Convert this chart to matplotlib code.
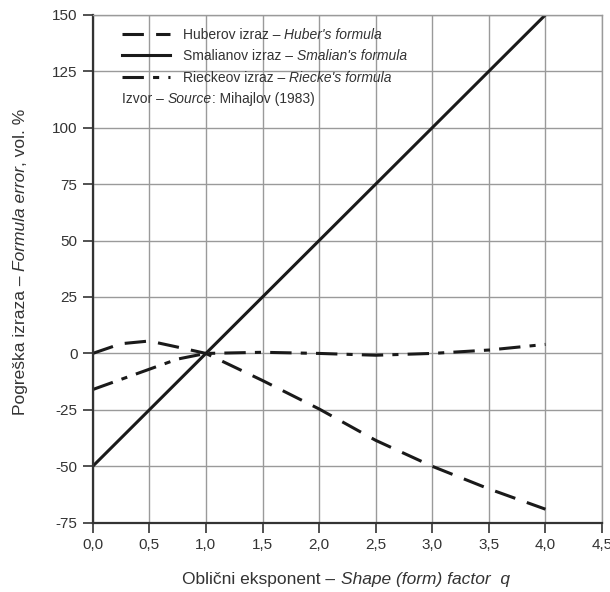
import matplotlib.pyplot as plt
import numpy as np
from matplotlib import font_manager
from matplotlib.ticker import FuncFormatter
from matplotlib.lines import Line2D


def pick_font(names):
    for n in names:
        try:
            font_manager.findfont(n, fallback_to_default=False)
            return n
        except Exception:
            pass
    return 'DejaVu Sans'


FONT = pick_font(['Liberation Sans Narrow', 'Liberation Sans'])
plt.rcParams['font.family'] = [FONT, 'DejaVu Sans']
NARROW = FONT != 'Liberation Sans'

# data
q = [0.0, 0.25, 0.5, 0.75, 1.0, 1.5, 2.0, 2.5, 3.0, 3.5, 4.0]
huber = [0.0, 4.3, 5.5, 2.8, 0.0, -12.0, -24.6, -38.5, -50.0, -60.0, -69.0]
riecke = [-16.0, -11.5, -7.0, -2.5, 0.0, 0.5, 0.0, -0.8, 0.0, 1.5, 4.0]
q_smal = [0.0, 4.0]
smalian = [-50.0, 150.0]

x_ticks = [0.0, 0.5, 1.0, 1.5, 2.0, 2.5, 3.0, 3.5, 4.0, 4.5]
y_ticks = [-75, -50, -25, 0, 25, 50, 75, 100, 125, 150]

legend_rows = [
    [("Huberov izraz – ", 'normal'), ("Huber's formula", 'italic')],
    [("Smalianov izraz – ", 'normal'), ("Smalian's formula", 'italic')],
    [("Rieckeov izraz – ", 'normal'), ("Riecke's formula", 'italic')],
]
source_row = [("Izvor – ", 'normal'), ("Source", 'italic'), (": Mihajlov (1983)", 'normal')]
xlabel_parts = [("Oblični eksponent – ", 'normal'), ("Shape (form) factor  q", 'italic')]
ylabel_parts = [("Pogreška izraza – ", 'normal'), ("Formula error", 'italic'), (", vol. %", 'normal')]

TXT = '#333333'
FS_TICK = 12.5 if NARROW else 11
FS_LEG = 12 if NARROW else 10
FS_LAB = 14 if NARROW else 12.5

fig = plt.figure(figsize=(6.10, 5.92), dpi=100)
ax = fig.add_axes([0.152, 0.117, 0.835, 0.858])
renderer = fig.canvas.get_renderer()
W, H = fig.bbox.width, fig.bbox.height


def text_len(s, style, size):
    t = fig.text(0, 0, "X" + s + "X", fontsize=size, style=style)
    t2 = fig.text(0, 0, "XX", fontsize=size, style=style)
    w = t.get_window_extent(renderer).width - t2.get_window_extent(renderer).width
    t.remove(); t2.remove()
    return w


def rich_text(px, py, parts, size, rotation=0, center=False):
    # px, py: baseline start point (pixels from bottom-left)
    lens = [text_len(s, st, size) for s, st in parts]
    total = sum(lens)
    d = np.array([np.cos(np.radians(rotation)), np.sin(np.radians(rotation))])
    p = np.array([px, py], float)
    if center:
        p = p - d * total / 2
    for (s, st), L in zip(parts, lens):
        fig.text(p[0] / W, p[1] / H, s, fontsize=size, style=st, color=TXT,
                 rotation=rotation, rotation_mode='anchor', ha='left', va='baseline')
        p = p + d * L


ax.plot(q, huber, color='#1a1a1a', lw=2.2, dashes=(7, 4))
ax.plot(q_smal, smalian, color='#1a1a1a', lw=2.2)
ax.plot(q, riecke, color='#1a1a1a', lw=2.2, dashes=(7, 3, 2, 3))

ax.set_xlim(0, 4.5)
ax.set_ylim(-75, 150)
ax.set_xticks(x_ticks)
ax.set_yticks(y_ticks)
ax.xaxis.set_major_formatter(FuncFormatter(lambda v, p: f"{v:.1f}".replace('.', ',')))
ax.yaxis.set_major_formatter(FuncFormatter(lambda v, p: f"{int(v)}"))
ax.grid(True, color='#9a9a9a', lw=1.0)
ax.set_axisbelow(True)

for s in ['top', 'right']:
    ax.spines[s].set_color('#9a9a9a')
    ax.spines[s].set_linewidth(1.0)
for s in ['left', 'bottom']:
    ax.spines[s].set_color('#333333')
    ax.spines[s].set_linewidth(1.6)

ax.tick_params(direction='out', length=7, width=1.2, color='#333333',
               labelsize=FS_TICK, labelcolor=TXT, pad=4)

# legend drawn by hand (mixed upright / italic text)
styles = [dict(dashes=(7, 4)), dict(), dict(dashes=(7, 3, 2, 3))]
row_y = [34, 55, 77]
for st, yy, parts in zip(styles, row_y, legend_rows):
    ln = Line2D([122 / W, 170 / W], [(H - yy) / H] * 2, transform=fig.transFigure,
                color='#1a1a1a', lw=2.2, **st)
    fig.add_artist(ln)
    rich_text(183, H - yy - 5, parts, FS_LEG)
rich_text(122, H - 98 - 5, source_row, FS_LEG)

# axis labels
rich_text(346, H - 584, xlabel_parts, FS_LAB, center=True)
rich_text(25, H - 262, ylabel_parts, FS_LAB, rotation=90, center=True)

fig.savefig('out.png', dpi=100)
